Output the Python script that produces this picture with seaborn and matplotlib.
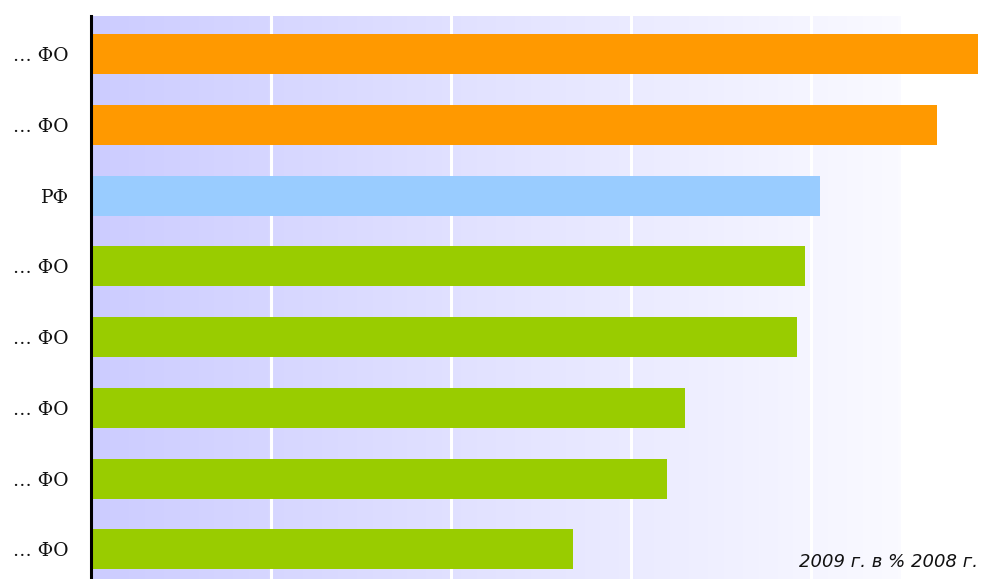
import numpy as np
import pandas as pd
import matplotlib
matplotlib.use("Agg")
import matplotlib.pyplot as plt
import seaborn as sns
from matplotlib.colors import LinearSegmentedColormap

labels = ["… ФО", "… ФО", "РФ", "… ФО", "… ФО", "… ФО", "… ФО", "… ФО"]
values = [49.3, 47.0, 40.5, 39.65, 39.2, 33.0, 32.0, 26.8]
colors = ["#FF9900", "#FF9900", "#99CCFF", "#99CC00", "#99CC00", "#99CC00", "#99CC00", "#99CC00"]
note = "2009 г. в % 2008 г."

ids = [f"r{i}" for i in range(len(values))]
df = pd.DataFrame({"id": ids, "value": values})

sns.set_theme(style="white")
fig = plt.figure(figsize=(9.81, 5.79), dpi=100)
ax = fig.add_axes([91/981, 0, 890/981, 563/579])

# background gradient
cmap = LinearSegmentedColormap.from_list("bg", ["#CCCCFF", "#FAFAFF"])
grad = np.linspace(0, 1, 256).reshape(1, -1)
ax.imshow(grad, cmap=cmap, aspect="auto", extent=[0, 44.95, 7.42, -0.54], zorder=0)

for gx in [10, 20, 30, 40]:
    ax.axvline(gx, color="white", lw=2.2, zorder=0.5)

sns.barplot(data=df, x="value", y="id", hue="id", palette=colors, order=ids,
            orient="h", width=0.566, legend=False, saturation=1, linewidth=0,
            ax=ax, zorder=2)

ax.set_xlim(0, 890/18)
ax.set_ylim(7.42, -0.54)
ax.set_xlabel("")
ax.set_ylabel("")
ax.set_xticks([])
ax.set_yticks(range(len(labels)))
ax.set_yticklabels(labels, family=["DejaVu Serif"], fontsize=13.5, color="#111111")
ax.tick_params(axis="y", length=0, pad=16)
for s in ["top", "right", "bottom"]:
    ax.spines[s].set_visible(False)
ax.spines["left"].set_color("black")
ax.spines["left"].set_linewidth(2.2)
ax.spines["left"].set_zorder(3)

fig.text(978/981, 1 - 567/579, note, ha="right", va="baseline", fontsize=13,
         style="italic", family="DejaVu Sans", color="#111111")

fig.savefig("out.png", dpi=100)
